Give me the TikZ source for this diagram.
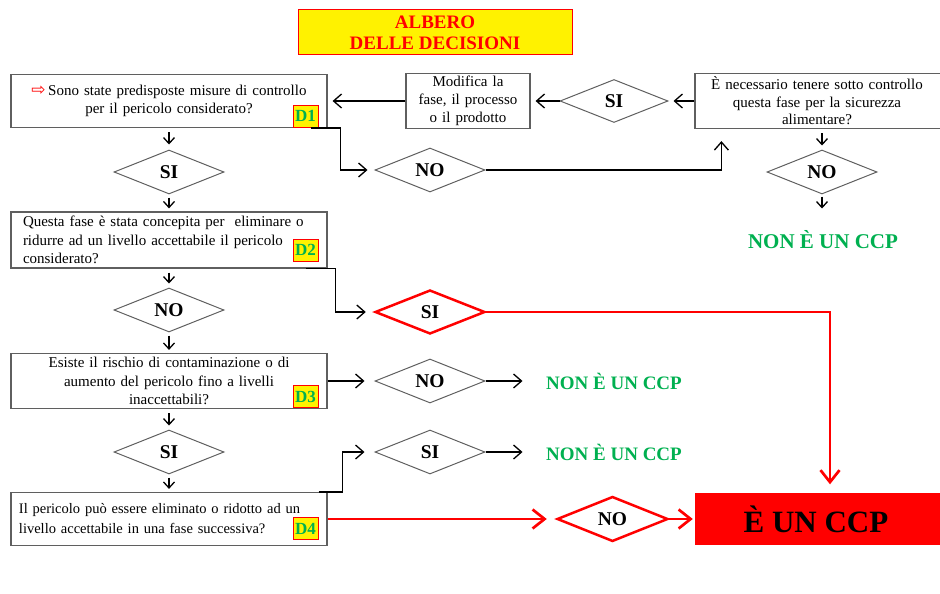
\documentclass[tikz,border=0pt]{standalone}
\usepackage{fontspec}
\setmainfont{Liberation Serif}
\newfontfamily\dejavu{DejaVu Sans}
\usetikzlibrary{shapes.geometric,arrows.meta,calc}
\definecolor{ccpgreen}{RGB}{0,176,80}
\definecolor{boxgray}{RGB}{95,95,95}
\begin{document}
\begin{tikzpicture}[x=1pt,y=-1pt,
  qbox/.style={draw=boxgray,line width=1.2pt,rectangle,minimum width=316pt,inner sep=0pt,text width=298pt,font=\fontsize{15}{18.5}\selectfont},
  lab/.style={draw=red,fill=yellow,line width=1pt,minimum width=25pt,minimum height=22pt,inner sep=0pt,font=\fontsize{17}{17}\selectfont\bfseries,text=ccpgreen},
  dia/.style={diamond,draw=boxgray,line width=1pt,minimum width=110pt,minimum height=44pt,inner sep=0pt,font=\fontsize{19.5}{19.5}\selectfont\bfseries},
  rdia/.style={dia,draw=red,line width=2.5pt},
  arr/.style={-{Straight Barb[length=8pt,width=14pt]},line width=1.3pt,shorten >=3pt},
  varr/.style={-{Straight Barb[length=6pt,width=11pt]},line width=1.3pt},
  rarr/.style={-{Straight Barb[length=12pt,width=19pt]},draw=red,line width=2.7pt,shorten >=3pt},
  non/.style={text=ccpgreen,font=\fontsize{19}{19}\selectfont\bfseries,inner sep=0pt}
]
\path[use as bounding box] (0,0) rectangle (940,594);

% title
\node[draw=red,fill=yellow,line width=1pt,minimum width=274pt,minimum height=45pt,inner sep=0pt,align=center,text=red,font=\fontsize{19}{21}\selectfont\bfseries] (title) at (435,32.5) {ALBERO\\DELLE DECISIONI};

% left column
\node[qbox,minimum height=53pt,align=center] (d1) at (169,101) {{\dejavu\fontsize{17}{17}\selectfont\color{red}⇨}\,Sono state predisposte misure di controllo\\per il pericolo considerato?};
\node[lab] (d1l) at (305.5,116) {D1};
\node[dia] (si1) at (169,172) {SI};
\node[qbox,minimum height=56pt,align=left,text width=296pt] (d2) at (169,240) {\hspace*{2pt}Questa fase è stata concepita per\ \ eliminare o\\\hspace*{2pt}ridurre ad un livello accettabile il pericolo\\\hspace*{2pt}considerato?};
\node[lab] (d2l) at (305.5,250) {D2};
\node[dia] (no1) at (169,310) {NO};
\node[qbox,minimum height=55pt,align=center] (d3) at (169,381) {Esiste il rischio di contaminazione o di\\aumento del pericolo fino a livelli\\inaccettabili?};
\node[lab] (d3l) at (305.5,396.5) {D3};
\node[dia] (si3) at (169,452) {SI};
\node[qbox,minimum height=53pt,align=left,font=\fontsize{14.5}{20}\selectfont,text width=300pt] (d4) at (169,519) {Il pericolo può essere eliminato o ridotto ad un\\livello accettabile in una fase successiva?};
\node[lab] (d4l) at (305.5,528.5) {D4};

% top right
\node[qbox,minimum width=124pt,text width=120pt,minimum height=55pt,align=center,font=\fontsize{15}{18}\selectfont] (modif) at (468,101) {Modifica la\\fase, il processo\\o il prodotto};
\node[dia,minimum width=108pt,minimum height=43pt] (si2) at (614,101) {SI};
\node[qbox,minimum width=250pt,text width=244pt,minimum height=55pt,align=center,font=\fontsize{15}{17.5}\selectfont] (nec) at (820,101) {\hspace*{-6pt}È necessario tenere sotto controllo\\\hspace*{-6pt}questa fase per la sicurezza\\\hspace*{-6pt}alimentare?};
\node[dia] (no2) at (430,170) {NO};
\node[dia] (no4) at (822,172) {NO};
\node[non,font=\fontsize{21}{21}\selectfont\bfseries] (non1) at (823,240) {NON È UN CCP};

% middle right
\node[rdia] (sir) at (430,312) {SI};
\node[dia] (no5) at (430,381) {NO};
\node[non] (non2) at (614,381) {NON È UN CCP};
\node[dia] (si6) at (430,452) {SI};
\node[non] (non3) at (614,452) {NON È UN CCP};
\node[rdia,minimum width=111pt,minimum height=45pt] (nor) at (612.5,519) {NO};
\node[fill=red,draw=red,minimum width=250pt,minimum height=51pt,inner sep=0pt,font=\fontsize{31}{31}\selectfont\bfseries] (ccp) at (820,519) {\hspace*{-8pt}È UN CCP};

% vertical arrows left column
\draw[varr,shorten <=4pt,shorten >=5pt] (d1.south) -- (si1.north);
\draw[varr,shorten <=3pt,shorten >=3pt] (si1.south) -- (d2.north);
\draw[varr,shorten <=4pt,shorten >=4pt] (d2.south) -- (no1.north);
\draw[varr,shorten <=3pt,shorten >=3pt] (no1.south) -- (d3.north);
\draw[varr,shorten <=4pt,shorten >=4pt] (d3.south) -- (si3.north);
\draw[varr,shorten <=3pt,shorten >=3pt] (si3.south) -- (d4.north);

% top connectors
\draw[arr,shorten >=7pt] ($(d1.south east)+(-17,0)$) -- ++(30,0) |- (no2.west);
\draw[arr,shorten >=12pt] (no2.east) -| ($(nec.south west)+(27,0)$);
\draw[arr,shorten >=5pt] (nec.west) -- (si2.east);
\draw[arr,shorten >=5pt] (si2.west) -- (modif.east);
\draw[arr,shorten >=5pt] (modif.west) -- (d1.east);
\draw[varr,shorten <=4pt,shorten >=4pt] ($(nec.south)+(2,0)$) -- (no4.north);
\draw[varr,shorten <=2pt,shorten >=0pt] (no4.south) -- ++(0,14);

% middle connectors
\draw[arr,shorten >=8pt] ($(d2.south east)+(-22,0)$) -- ++(30,0) |- (sir.west);
\draw[rarr,shorten >=9pt] (sir.east) -| ($(ccp.north)+(10,0)$);
\draw[arr,shorten >=10pt] (d3.east) -- (no5.west);
\draw[arr,shorten >=0pt] (no5.east) -- ++(37,0);
\draw[arr,shorten >=10pt] ($(d4.north east)+(-9,0)$) -- ++(24,0) |- (si6.west);
\draw[arr,shorten >=0pt] (si6.east) -- ++(37,0);
\draw[rarr,shorten >=9pt] (d4.east) -- (nor.west);
\draw[rarr,shorten >=2pt] (nor.east) -- (ccp.west);
\end{tikzpicture}
\end{document}
